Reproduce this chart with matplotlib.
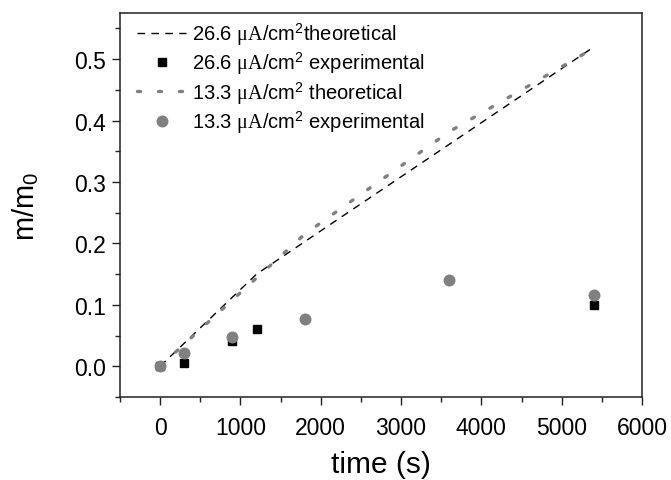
import matplotlib
matplotlib.use("Agg")
import matplotlib.pyplot as plt
from matplotlib.ticker import MultipleLocator

# ------------------------------------------------------
# Data
# ------------------------------------------------------
t_high_theo = [0, 300, 900, 1200, 5400]
m_high_theo = [0.0, 0.0375, 0.1125, 0.150, 0.520]

t_high_exp = [0, 300, 900, 1200, 5400]
m_high_exp = [0.0, 0.005, 0.041, 0.060, 0.100]

t_low_theo = [0, 300, 900, 1800, 3600, 5400]
m_low_theo = [0.0, 0.036, 0.108, 0.215, 0.382, 0.518]

t_low_exp = [0, 300, 900, 1800, 3600, 5400]
m_low_exp = [0.0, 0.021, 0.048, 0.077, 0.141, 0.116]

labels = [
    r"26.6 $\mathrm{\mu A}$/cm$^{\mathsf{2}}$theoretical",
    r"26.6 $\mathrm{\mu A}$/cm$^{\mathsf{2}}$ experimental",
    r"13.3 $\mathrm{\mu A}$/cm$^{\mathsf{2}}$ theoretical",
    r"13.3 $\mathrm{\mu A}$/cm$^{\mathsf{2}}$ experimental",
]

# ------------------------------------------------------
# Style
# ------------------------------------------------------
plt.rcParams["font.family"] = ["Liberation Sans", "DejaVu Sans"]
plt.rcParams["mathtext.fontset"] = "custom"
plt.rcParams["mathtext.rm"] = "Liberation Serif"
plt.rcParams["mathtext.sf"] = "Liberation Sans"
plt.rcParams["mathtext.it"] = "Liberation Sans:italic"

GRAY = "#808080"

fig = plt.figure(figsize=(6.71, 4.81), dpi=100)
ax = fig.add_axes([0.1788, 0.1726, 0.778, 0.798])

ax.plot(t_high_theo, m_high_theo, color="black", lw=1.0,
        dashes=(5.5, 4.5), label=labels[0], zorder=2)
ax.plot(t_high_exp, m_high_exp, ls="none", marker="s", ms=6.2,
        color="black", label=labels[1], zorder=3)
ax.plot(t_low_theo, m_low_theo, color=GRAY, lw=2.4, dashes=(0.9, 5.4),
        dash_capstyle="round", label=labels[2], zorder=2)
ax.plot(t_low_exp, m_low_exp, ls="none", marker="o", ms=7.6,
        color=GRAY, label=labels[3], zorder=4)

ax.set_xlim(-500, 6000)
ax.set_ylim(-0.05, 0.575)
ax.xaxis.set_major_locator(MultipleLocator(1000))
ax.xaxis.set_minor_locator(MultipleLocator(500))
ax.yaxis.set_major_locator(MultipleLocator(0.1))
ax.yaxis.set_minor_locator(MultipleLocator(0.05))
ax.yaxis.set_major_formatter(plt.FormatStrFormatter("%.1f"))

for s in ax.spines.values():
    s.set_linewidth(1.1)
    s.set_color("#222222")

ax.tick_params(which="both", direction="out", top=False, right=False,
               width=1.0, labelsize=16.5, color="#222222")
ax.tick_params(which="major", length=6)
ax.tick_params(which="minor", length=3.5)
ax.tick_params(axis="x", which="major", pad=7.5)
ax.tick_params(axis="y", which="major", pad=4)

ax.set_xlabel("time (s)", fontsize=21.5, labelpad=8)
ax.set_ylabel(r"m/m$_{\mathsf{0}}$", fontsize=21, labelpad=24)

ax.legend(loc="upper left", frameon=False, fontsize=14.5, numpoints=1,
          handlelength=2.4, handletextpad=0.3, labelspacing=0.12,
          borderaxespad=0.1, borderpad=0.25,
          bbox_to_anchor=(0.02, 1.0))

fig.savefig("out.png", dpi=100)
